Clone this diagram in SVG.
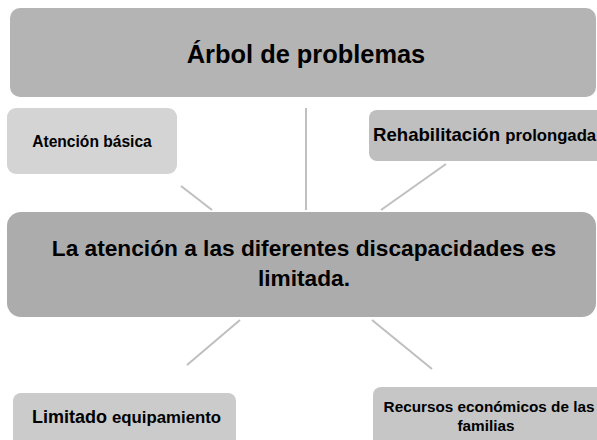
<svg xmlns="http://www.w3.org/2000/svg" width="597" height="440" viewBox="0 0 597 440">
<style>
text{font-family:"Liberation Sans",Arial,sans-serif;font-weight:bold;fill:#000}
.c{stroke:#bfbfbf;stroke-width:2;fill:none}
</style>
<rect width="597" height="440" fill="#fff"/>
<g id="connectors">
<line class="c" x1="306" y1="108" x2="306" y2="210"/>
<line class="c" x1="181" y1="186" x2="212" y2="210"/>
<line class="c" x1="446" y1="164" x2="381" y2="210"/>
<line class="c" x1="240" y1="320" x2="187" y2="365"/>
<line class="c" x1="372" y1="320" x2="432" y2="369"/>
</g>
<g id="title">
<rect x="10" y="8" width="586" height="89" rx="10" fill="#b4b4b4"/>
<text x="306" y="63" text-anchor="middle" font-size="25.4">Árbol de problemas</text>
</g>
<g id="atencion">
<rect x="7" y="108" width="170" height="66" rx="9" fill="#d4d4d4"/>
<text x="92" y="147" text-anchor="middle" font-size="15.6">Atención básica</text>
</g>
<g id="rehabilitacion">
<rect x="369" y="110" width="240" height="51" rx="8" fill="#bfbfbf"/>
<text x="373" y="141" font-size="18.6">Rehabilitación <tspan font-size="16.7">prolongada</tspan></text>
</g>
<g id="main">
<rect x="7" y="212" width="589" height="105" rx="14" fill="#acacac"/>
<text x="304" y="256" text-anchor="middle" font-size="22.7">La atención a las diferentes discapacidades es</text>
<text x="304" y="286" text-anchor="middle" font-size="22.7">limitada.</text>
</g>
<g id="limitado">
<rect x="13" y="393" width="223" height="60" rx="8" fill="#cbcbcb"/>
<text x="32" y="423" font-size="18">Limitado <tspan font-size="16.8">equipamiento</tspan></text>
</g>
<g id="recursos">
<rect x="373" y="387" width="240" height="60" rx="8" fill="#c6c6c6"/>
<text x="489" y="412" text-anchor="middle" font-size="15.3">Recursos económicos de las</text>
<text x="486" y="431" text-anchor="middle" font-size="15.3">familias</text>
</g>
</svg>
